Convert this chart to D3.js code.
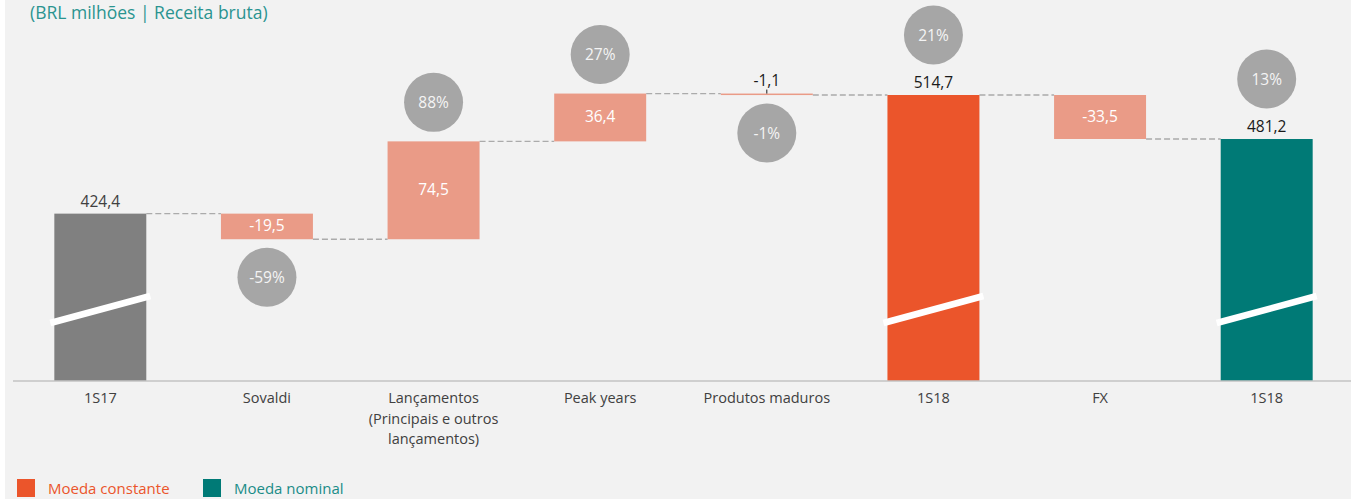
<!DOCTYPE html>
<html lang="pt">
<head>
<meta charset="UTF-8">
<title>Receita bruta</title>
<style>
  body { margin: 0; background: #fff; }
  svg { display: block; font-family: "Open Sans", "Noto Sans", sans-serif; }
</style>
</head>
<body>
<svg></svg>
<script src="https://d3js.org/d3.v7.min.js"></script>
<script>
// dados
var categories = ["1S17", "Sovaldi", "Lançamentos|(Principais e outros|lançamentos)", "Peak years", "Produtos maduros", "1S18", "FX", "1S18"];
var values = [424.4, -19.5, 74.5, 36.4, -1.1, 514.7, -33.5, 481.2];
var kinds = ["total", "delta", "delta", "delta", "delta", "total", "delta", "total"];
var pcts = ["", "-59%", "88%", "27%", "-1%", "21%", "", "13%"];
var valueLabels = ["424,4", "-19,5", "74,5", "36,4", "-1,1", "514,7", "-33,5", "481,2"];
var legendItems = ["Moeda constante", "Moeda nominal"];

var W = 1351, H = 499;
var svg = d3.select("svg").attr("width", W).attr("height", H);

svg.append("rect").attr("x", 5).attr("y", 0).attr("width", W - 5).attr("height", H).attr("fill", "#f2f2f2");

var x = d3.scaleBand()
  .domain(d3.range(categories.length))
  .range([17, 1350])
  .paddingInner(0.448)
  .paddingOuter(0.224);

var y = d3.scaleLinear().domain([297, 514.7]).range([381, 95]);

// monta a cascata
var running = 0;
var bars = values.map(function(v, i) {
  var b = {i: i, v: v, kind: kinds[i]};
  if (kinds[i] == "total") {
    b.y0 = y.domain()[0]; b.y1 = v; running = v;
  } else {
    b.y0 = running; b.y1 = running + v; running = running + v;
  }
  b.end = running;
  return b;
});

function fillOf(b) {
  if (b.kind == "delta") return "#ea9b87";
  if (b.i == 0) return "#808080";
  if (b.i == 5) return "#eb552b";
  return "#007a76";
}

var g = svg.append("g");

// conectores tracejados
for (var i = 0; i < bars.length - 1; i++) {
  var yy = y(bars[i].end);
  g.append("line")
    .attr("x1", x(i) + x.bandwidth()).attr("x2", x(i + 1))
    .attr("y1", yy).attr("y2", yy)
    .attr("stroke", "#ababab").attr("stroke-width", 1.3)
    .attr("stroke-dasharray", "6,3");
}

g.selectAll("rect.bar").data(bars).enter().append("rect")
  .attr("class", "bar")
  .attr("x", function(d) { return x(d.i); })
  .attr("width", x.bandwidth())
  .attr("y", function(d) { return y(Math.max(d.y0, d.y1)); })
  .attr("height", function(d) { return Math.max(1.5, Math.abs(y(d.y0) - y(d.y1))); })
  .attr("fill", fillOf);

// quebra de eixo
bars.filter(function(d) { return d.kind == "total"; }).forEach(function(d) {
  var base = y(y.domain()[0]);
  g.append("line")
    .attr("x1", x(d.i) - 4).attr("y1", base - 58)
    .attr("x2", x(d.i) + x.bandwidth() + 4).attr("y2", base - 85)
    .attr("stroke", "#fff").attr("stroke-width", 6.5);
});

// eixo
svg.append("line").attr("x1", 13).attr("x2", W).attr("y1", 381).attr("y2", 381)
  .attr("stroke", "#c3c3c3").attr("stroke-width", 1.5);

// rótulos de valor
bars.forEach(function(d) {
  var cx = x(d.i) + x.bandwidth() / 2;
  var top = y(Math.max(d.y0, d.y1)), bot = y(Math.min(d.y0, d.y1));
  var t = g.append("text").attr("x", cx).attr("text-anchor", "middle")
    .attr("font-size", 15.5).text(valueLabels[d.i]);
  if (d.kind == "total") {
    t.attr("y", top - 7).attr("fill", d.i == 0 ? "#404040" : "#1a1a1a");
  } else if (bot - top < 20) {
    t.attr("y", top - 8).attr("fill", "#1a1a1a");
    g.append("line").attr("x1", cx).attr("x2", cx).attr("y1", top - 4).attr("y2", top)
      .attr("stroke", "#1a1a1a").attr("stroke-width", 1);
  } else {
    t.attr("y", (top + bot) / 2 + 5).attr("fill", "#fff");
  }
});

// círculos de variação
bars.forEach(function(d) {
  if (!pcts[d.i]) return;
  var cx = x(d.i) + x.bandwidth() / 2;
  var top = y(Math.max(d.y0, d.y1)), bot = y(Math.min(d.y0, d.y1));
  var cy;
  if (d.kind == "total") cy = top - 60;
  else if (d.v < 0) cy = bot + 38;
  else cy = top - 39;
  g.append("circle").attr("cx", cx).attr("cy", cy).attr("r", 29.5).attr("fill", "#a6a6a6");
  g.append("text").attr("x", cx).attr("y", cy + 5.5).attr("text-anchor", "middle")
    .attr("font-size", 15.5).attr("fill", "#f4f4f4").text(pcts[d.i]);
});

// categorias
categories.forEach(function(c, i) {
  var t = svg.append("text").attr("x", x(i) + x.bandwidth() / 2).attr("y", 403)
    .attr("text-anchor", "middle").attr("font-size", 14.5).attr("fill", "#404040");
  c.split("|").forEach(function(line, k) {
    t.append("tspan").attr("x", x(i) + x.bandwidth() / 2).attr("dy", k == 0 ? 0 : 20.5).text(line);
  });
});

// título
svg.append("text").attr("x", 30).attr("y", 19).attr("font-size", 17.5)
  .attr("fill", "#2a9490").text("(BRL milhões | Receita bruta)");

// legenda
var legColors = ["#eb552b", "#007a76"];
var legText = ["#eb552b", "#1a8c88"];
var legX = [17, 203];
legendItems.forEach(function(l, i) {
  svg.append("rect").attr("x", legX[i]).attr("y", 479).attr("width", 18).attr("height", 18).attr("fill", legColors[i]);
  svg.append("text").attr("x", legX[i] + 31).attr("y", 494).attr("font-size", 15)
    .attr("fill", legText[i]).text(l);
});
</script>
</body>
</html>
